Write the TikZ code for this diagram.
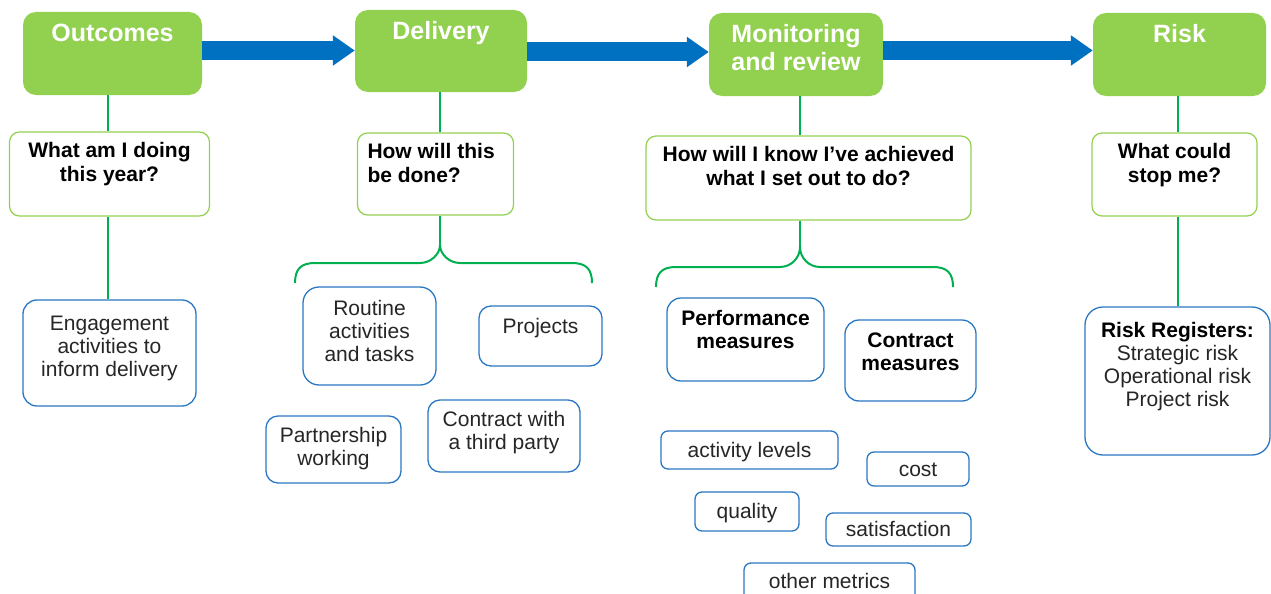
\documentclass[tikz,border=0pt]{standalone}
\usepackage{fontspec}
\setmainfont{Liberation Sans}
\usetikzlibrary{arrows.meta}
\definecolor{hgreen}{HTML}{92D050}
\definecolor{lgreen}{HTML}{00B050}
\definecolor{abl}{HTML}{0070C0}
\definecolor{bbl}{HTML}{2A78C4}
\definecolor{txt}{HTML}{262626}
\newcommand\tb[4]{\parbox[c][#2pt][t]{#1pt}{\centering\vspace*{#3pt}\strut #4}}
\tikzset{
  hdr/.style={fill=hgreen, draw=none, rounded corners=13pt, inner sep=0pt, text=white,
    font=\fontsize{25}{28}\selectfont\bfseries},
  qbox/.style={fill=white, draw=hgreen, line width=1.2pt, rounded corners=10pt, inner sep=0pt,
    text=black, font=\fontsize{21}{24}\selectfont\bfseries},
  bbox/.style={fill=white, draw=bbl, line width=1.3pt, rounded corners=14pt, inner sep=0pt,
    text=txt, font=\fontsize{21}{23}\selectfont},
  bboxb/.style={bbox, text=black, font=\fontsize{21}{23}\selectfont\bfseries},
  sbox/.style={bbox, rounded corners=7pt, text height=14pt, text depth=0pt},
  flow/.style={abl, line width=19pt, -{Triangle[length=22pt,width=29pt]}},
  link/.style={lgreen, line width=2pt},
}
\begin{document}
\begin{tikzpicture}[x=1pt,y=-1pt]
\useasboundingbox (0,0) rectangle (1271,594);
\fill[white] (0,0) rectangle (1271,594);
\clip (0,0) rectangle (1271,594);
% headers
\node[hdr] (out) at (112.5,53.5) {\tb{179}{83}{10.4}{Outcomes}};
\node[hdr] (del) at (441,51) {\tb{172}{82}{10.4}{Delivery}};
\node[hdr] (mon) at (796,54.5) {\tb{174}{83}{10.4}{Monitoring\\and review}};
\node[hdr] (risk) at (1179.5,54.5) {\tb{173}{83}{10.4}{Risk}};
% arrows
\coordinate (ay) at (0,50.5);
\coordinate (ay2) at (0,52);
\draw[flow] (out.east|-ay) -- (del.west|-ay);
\draw[flow] (del.east|-ay2) -- (mon.west|-ay2);
\draw[flow] (mon.east|-ay) -- (risk.west|-ay);
% questions
\node[qbox] (q1) at (109.5,174) {\tb{200}{84}{9}{What am I doing\\this year?}};
\node[qbox] (q2) at (435.5,174) {\parbox[c][82pt][t]{156pt}{\vspace*{9pt}\hspace*{10pt}\parbox[t]{140pt}{\raggedright\strut How will this\\be done?}}};
\node[qbox] (q3) at (808.5,178) {\tb{325}{84}{9}{How will I know I’ve achieved\\what I set out to do?}};
\node[qbox] (q4) at (1174.5,174.5) {\tb{165}{83}{9}{What could\\stop me?}};
% blue boxes
\node[bbox] (eng) at (109.5,353) {\tb{173}{106}{14}{Engagement\\activities to\\inform delivery}};
\node[bbox, rounded corners=16pt] (rout) at (369.5,336) {\tb{133}{98}{12}{Routine\\activities\\and tasks}};
\node[bbox, rounded corners=12pt] (proj) at (540.5,336) {\tb{123}{60}{11}{Projects}};
\node[bbox, rounded corners=12pt] (part) at (333.5,449.5) {\tb{135}{67}{10}{Partnership\\working}};
\node[bbox, rounded corners=12pt] (ctp) at (504,436) {\tb{152}{72}{10}{Contract with\\a third party}};
\node[bboxb] (perf) at (745.5,339.5) {\tb{157}{83}{11}{Performance\\measures}};
\node[bboxb] (cm) at (910.5,360.5) {\tb{131}{81}{11}{Contract\\measures}};
\node[sbox, minimum width=177pt, minimum height=38pt] (al) at (749.5,450) {activity levels};
\node[sbox, minimum width=102pt, minimum height=34pt] (cost) at (918,469) {cost};
\node[sbox, minimum width=104pt, minimum height=39pt] (qual) at (747,511.5) {quality};
\node[sbox, minimum width=145pt, minimum height=33pt] (sat) at (898.5,529.5) {satisfaction};
\node[bbox, rounded corners=7pt] (om) at (829.5,583) {\tb{171}{40}{9}{other metrics}};
\node[bbox, rounded corners=18pt] (rr) at (1177.5,381) {\tb{185}{148}{14}{{\color{black}\bfseries Risk Registers:}\\Strategic risk\\Operational risk\\Project risk}};
% connectors
\coordinate (c1) at (108,0);
\coordinate (c2) at (440,0);
\coordinate (c3) at (800,0);
\coordinate (c4) at (1177.5,0);
\coordinate (bd) at (440,245);
\coordinate (bm) at (800,247);
\draw[link] (out.south-|c1) -- (q1.north-|c1);
\draw[link] (q1.south-|c1) -- (eng.north-|c1);
\draw[link] (del.south-|c2) -- (q2.north-|c2);
\draw[link] (q2.south-|c2) -- (bd);
\draw[link] (mon.south-|c3) -- (q3.north-|c3);
\draw[link] (q3.south-|c3) -- (bm);
\draw[link] (risk.south-|c4) -- (q4.north-|c4);
\draw[link] (q4.south-|c4) -- (rr.north-|c4);
% braces
\draw[link, shift={(bd)}] (-145,38) .. controls (-145,24) and (-139,18) .. (-125,18) -- (-20,18)
  .. controls (-9,18) and (0,9) .. (0,0) .. controls (0,9) and (9,18) .. (20,18) -- (132,18)
  .. controls (146,18) and (152,24) .. (152,38);
\draw[link, shift={(bm)}] (-144,40) .. controls (-144,26) and (-138,20) .. (-124,20) -- (-20,20)
  .. controls (-9,20) and (0,11) .. (0,0) .. controls (0,11) and (9,20) .. (20,20) -- (133,20)
  .. controls (147,20) and (153,26) .. (153,40);
\end{tikzpicture}
\end{document}
